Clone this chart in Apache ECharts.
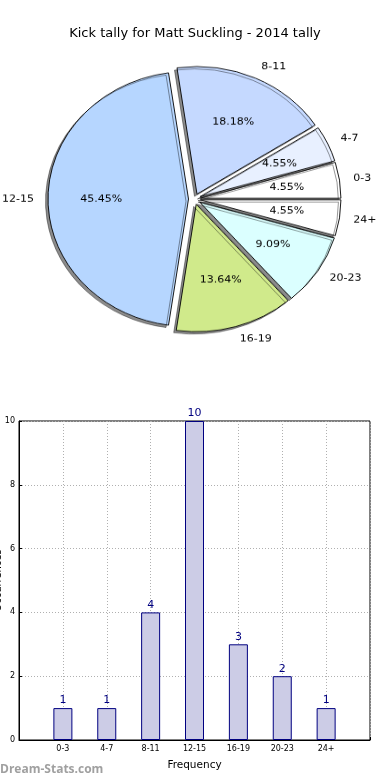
<!DOCTYPE html>
<html><head><meta charset="utf-8">
<script src="https://cdn.jsdelivr.net/npm/echarts@6/dist/echarts.min.js"></script>
<style>
html,body{margin:0;padding:0;background:#fff;}
#main{position:absolute;left:0;top:0;width:390px;height:780px;}
#pie{position:absolute;left:0;top:0;width:390px;height:400px;transform-origin:194.5px 199px;transform:scaleY(0.9075);}
</style></head><body>
<div id="main"></div><div id="pie"></div>
<script>
const titleText = 'Kick tally for Matt Suckling - 2014 tally';
const categories = ['0-3', '4-7', '8-11', '12-15', '16-19', '20-23', '24+'];
const kicks = [1, 1, 4, 10, 3, 2, 1];
const sliceColors = ['#ffffff', '#e8f0ff', '#c5d9ff', '#b6d6ff', '#d0ea8b', '#dbffff', '#ffffff'];
const yTicks = [0, 2, 4, 6, 8, 10];
const total = kicks.reduce((a, b) => a + b, 0);
const FONT = 'DejaVu Sans';

const main = echarts.init(document.getElementById('main'), null, {renderer: 'canvas'});
main.setOption({
  animation: false,
  backgroundColor: '#fff',
  title: {text: titleText, left: 'center', top: 22,
    textStyle: {fontSize: 13, fontWeight: 'normal', fontFamily: FONT, color: '#000'}},
  grid: {left: 19, top: 421, width: 351, height: 319, show: true, borderColor: '#000', borderWidth: 1, backgroundColor: 'transparent', containLabel: false, outerBoundsMode: 'none'},
  xAxis: {type: 'value', min: -1, max: 7, interval: 1,
    name: 'Frequency', nameLocation: 'middle', nameGap: 20, nameMoveOverlap: false,
    nameTextStyle: {fontSize: 10.5, color: '#000', fontFamily: FONT},
    axisLine: {show: true, onZero: false, lineStyle: {color: '#000', width: 1}},
    axisTick: {show: true, inside: true, length: 3, lineStyle: {color: '#000'}},
    axisLabel: {fontSize: 8, color: '#000', fontFamily: FONT, margin: 5,
      formatter: v => (categories[v] !== undefined ? categories[v] : '')},
    splitLine: {show: true, lineStyle: {type: [1, 2], color: '#b0b0b0', width: 1}}},
  yAxis: {type: 'value', min: yTicks[0], max: yTicks[yTicks.length - 1], interval: 2,
    name: 'Occurrences', nameLocation: 'middle', nameGap: 16, nameRotate: 90, nameMoveOverlap: false,
    nameTextStyle: {fontSize: 10, color: '#000', fontFamily: FONT},
    axisLine: {show: true, onZero: false, lineStyle: {color: '#000', width: 1}},
    axisTick: {show: true, inside: true, length: 3, lineStyle: {color: '#000'}},
    axisLabel: {fontSize: 8, color: '#000', fontFamily: FONT, margin: 4},
    splitLine: {show: true, lineStyle: {type: [1, 2], color: '#b0b0b0', width: 1}}},
  series: [{type: 'bar', data: kicks.map((v, i) => [i, v]), barWidth: 19,
    itemStyle: {color: '#ccccE6', borderColor: '#000080', borderWidth: 1},
    label: {show: true, position: 'top', color: '#000080', fontSize: 11, fontFamily: FONT, distance: 2},
    emphasis: {disabled: true}}],
  graphic: [{type: 'text', left: 0, top: 764,
    style: {text: 'Dream-Stats.com', fill: '#a0a0a0', font: 'bold 12px "Open Sans"'}}]
});

const pie = echarts.init(document.getElementById('pie'), null, {renderer: 'canvas'});
pie.setOption({
  animation: false,
  backgroundColor: 'transparent',
  series: [
    {type: 'pie', center: [194.5, 199], radius: [0, 140.5], startAngle: 0, clockwise: false,
      selectedMode: 'multiple', selectedOffset: 6, avoidLabelOverlap: false,
      emphasis: {disabled: true},
      itemStyle: {borderColor: '#000', borderWidth: 0.9, shadowColor: 'rgba(0,0,0,0.45)', shadowOffsetX: -2.5, shadowOffsetY: 2.5, shadowBlur: 0},
      label: {show: true, position: 'outside', formatter: '{b}', fontSize: 11, color: '#000', fontFamily: FONT, distanceToLabelLine: 0},
      labelLine: {show: false, length: 14, length2: 0},
      data: categories.map((c, i) => ({name: c, value: kicks[i], selected: true, itemStyle: {color: sliceColors[i]}}))},
    {type: 'pie', center: [194.5, 199], radius: [0, 168.6], startAngle: 0, clockwise: false,
      selectedMode: 'multiple', selectedOffset: 6, avoidLabelOverlap: false, silent: true,
      emphasis: {disabled: true},
      itemStyle: {color: 'rgba(0,0,0,0)', borderWidth: 0},
      label: {show: true, position: 'inside', fontSize: 11, color: '#000', fontFamily: FONT,
        formatter: p => (p.value / total * 100).toFixed(2) + '%'},
      labelLine: {show: false},
      data: categories.map((c, i) => ({name: c, value: kicks[i], selected: true}))}
  ]
});
</script>
</body></html>
